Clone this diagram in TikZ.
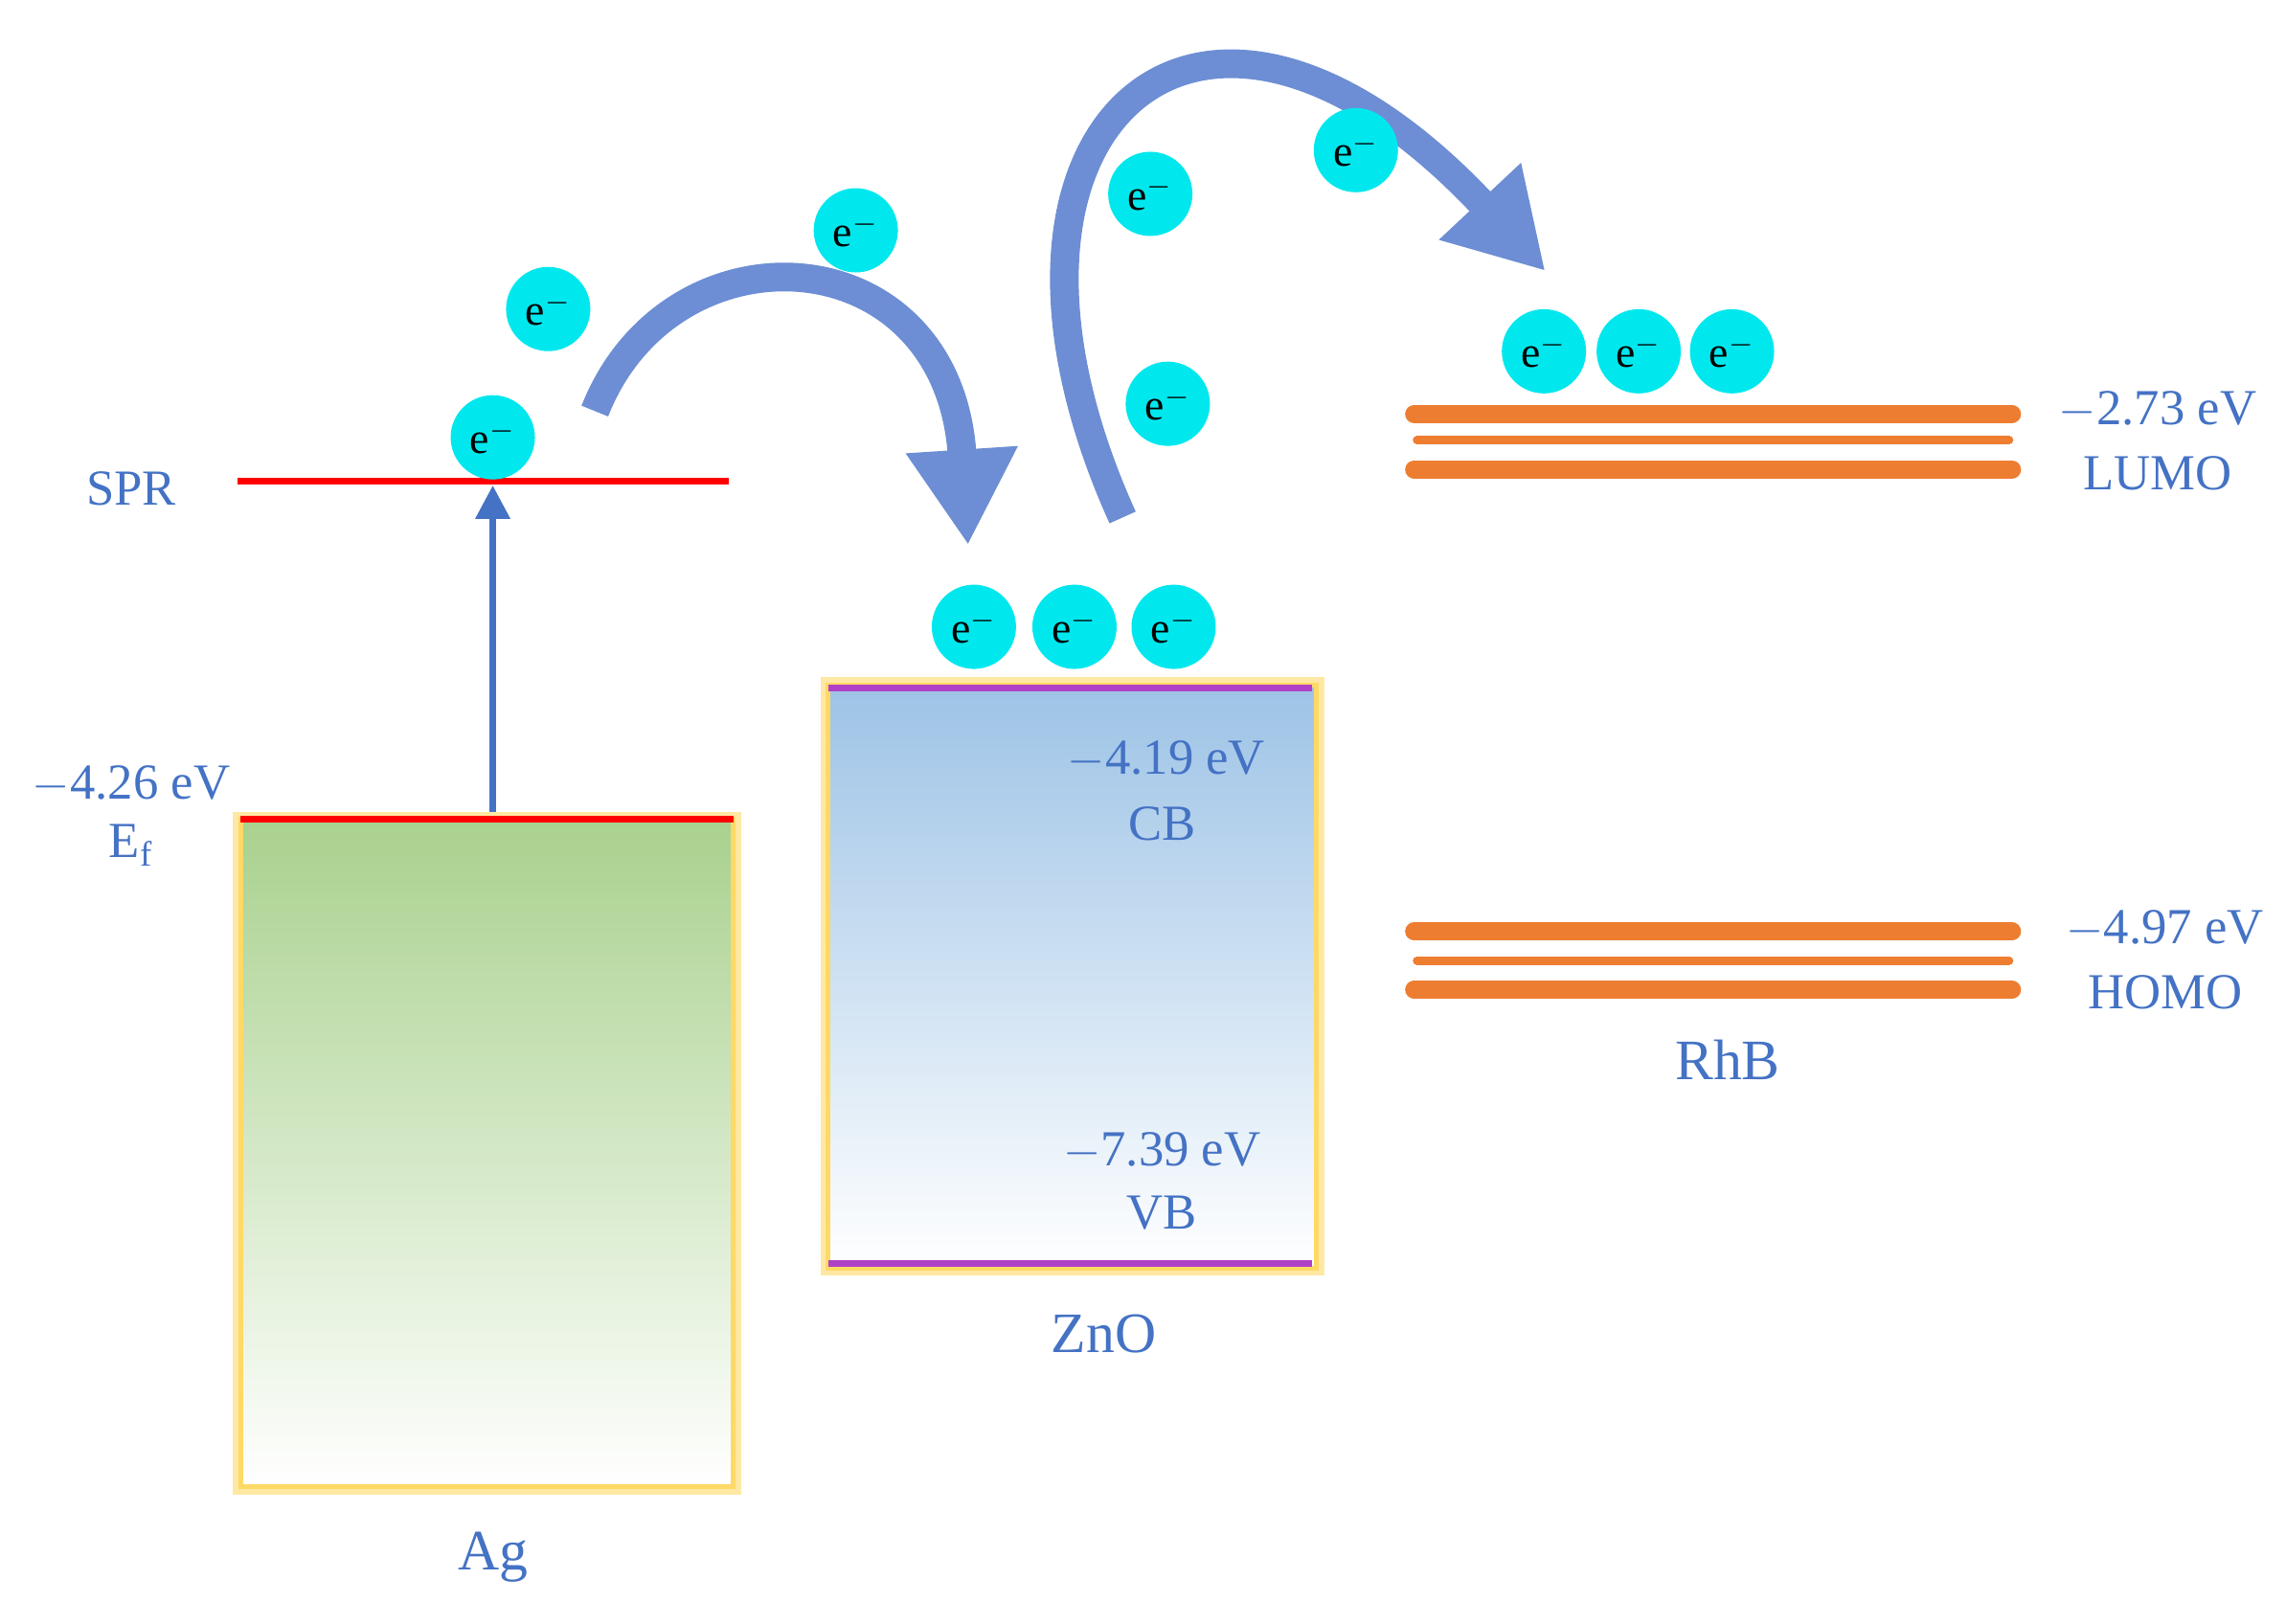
\documentclass[tikz,border=0pt]{standalone}
\usepackage{fontspec}
\setmainfont{Liberation Serif}
\usetikzlibrary{arrows.meta}
\definecolor{tb}{HTML}{4472C4}
\definecolor{ecy}{HTML}{00E8EE}
\definecolor{org}{HTML}{ED7D31}
\definecolor{agg}{HTML}{A9D18E}
\definecolor{znb}{HTML}{9DC3E6}
\definecolor{pur}{HTML}{B040C8}
\definecolor{glow}{HTML}{FFD966}
\definecolor{arr}{HTML}{6D8ED4}
\tikzset{
  lab/.style={text=tb,font=\fontsize{15}{17}\selectfont,inner sep=0pt},
  big/.style={lab,font=\fontsize{17}{19}\selectfont},
  elec/.style={circle,fill=ecy,minimum size=0.88cm,inner sep=0pt,font=\fontsize{13}{15}\selectfont},
  thickorg/.style={org,line width=0.19cm,line cap=round},
  thinorg/.style={org,line width=0.09cm,line cap=round},
  fat/.style={arr,line width=0.3cm,-{Triangle[length=1.0cm,width=1.1cm]}},
}
\begin{document}
\begin{tikzpicture}[x=0.015225cm,y=-0.015225cm]
\useasboundingbox (0,0) rectangle (1568,1114);
% Ag box
\draw[glow,line width=0.16cm,opacity=0.6] (165,562) rectangle (503,1020);
\shade[top color=agg,bottom color=white] (165,562) rectangle (503,1020);
\draw[glow,line width=0.05cm] (165,562) rectangle (503,1020);
\draw[red,line width=0.07cm] (165,562) -- (503,562);
\draw[red,line width=0.07cm] (163,330) -- (500,330);
% ZnO box
\draw[glow,line width=0.16cm,opacity=0.6] (568,470) rectangle (903,870);
\shade[top color=znb,bottom color=white] (568,470) rectangle (903,870);
\draw[glow,line width=0.05cm] (568,470) rectangle (903,870);
\draw[pur,line width=0.07cm] (568,472) -- (900,472);
\draw[pur,line width=0.07cm] (568,867) -- (900,867);
% RhB lines
\draw[thickorg] (970,284) -- (1380,284);
\draw[thinorg] (972,302) -- (1378,302);
\draw[thickorg] (970,322) -- (1380,322);
\draw[thickorg] (970,639) -- (1380,639);
\draw[thinorg] (972,659) -- (1378,659);
\draw[thickorg] (970,679) -- (1380,679);
% up arrow
\coordinate (ef) at (338,557);
\coordinate (spr) at (338,333);
\draw[tb,line width=0.07cm,-{Triangle[length=0.35cm,width=0.35cm]}] (ef) -- (spr);
% curved arrows
\coordinate (a1s) at (408,282);
\coordinate (a1e) at (664,374);
\draw[fat] (a1s) .. controls (460,150) and (650,160) .. (a1e);
\coordinate (a2s) at (770,355);
\coordinate (a2e) at (1060,186);
\draw[fat] (a2s) .. controls (650,90) and (820,-70) .. (a2e);
% electrons
\foreach \n/\x/\y in {e1/338/300,e2/376/212,e3/587/158,e4/789/133,e5/930/103,e6/801/277,e7/668/430,e8/737/430,e9/805/430,e10/1059/241,e11/1124/241,e12/1188/241}
  \node[elec] (\n) at (\x,\y) {e$^{-}$};
% labels
\node[lab] (spr-l) at (90,335) {SPR};
\node[lab] (ef-v) at (90,538) {$-$4.26 eV};
\node[lab] (ef-l) at (90,580) {E$_\mathrm{f}$};
\node[big] (ag) at (338,1068) {Ag};
\node[lab] (cbv) at (800,521) {$-$4.19 eV};
\node[lab] (cb) at (797,565) {CB};
\node[lab] (vbv) at (797,790) {$-$7.39 eV};
\node[lab] (vb) at (797,832) {VB};
\node[big] (zno) at (757,915) {ZnO};
\node[lab] (lv) at (1480,281) {$-$2.73 eV};
\node[lab] (lumo) at (1480,325) {LUMO};
\node[lab] (hv) at (1485,637) {$-$4.97 eV};
\node[lab] (homo) at (1485,681) {HOMO};
\node[big] (rhb) at (1185,727) {RhB};
\end{tikzpicture}
\end{document}
